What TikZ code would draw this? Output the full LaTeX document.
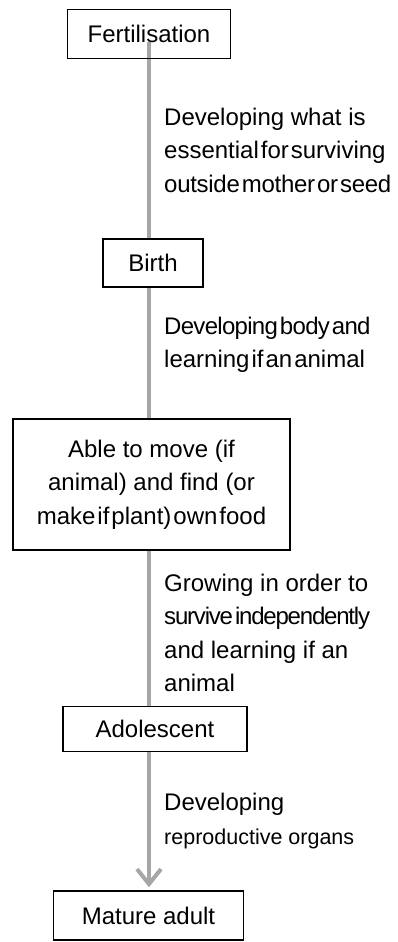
\documentclass[tikz,border=0pt]{standalone}
\usepackage{fontspec}
\setmainfont{Liberation Sans}
\usetikzlibrary{arrows.meta,positioning,backgrounds}

\newcommand\tightwords[2]{{\addfontfeature{LetterSpace=#1}\spaceskip=2pt\relax #2}}

\begin{document}
\begin{tikzpicture}[x=1pt, y=-1pt,
        every node/.style={font=\fontsize{24}{33.5}\selectfont},
        stage/.style={draw=black, line width=1.5pt, fill=white, inner sep=0pt, align=center},
        note/.style={anchor=west, inner sep=0pt, align=left},
        lifeline/.style={draw=gray!70, line width=4pt, shorten >=3pt, -{Straight Barb[length=15pt,width=24pt]}}]

    \useasboundingbox (0,0) rectangle (398,942);

    \node[stage, fill=none, minimum width=163pt, minimum height=49pt] (fert) at (149,34) {Fertilisation};
    \node[stage, minimum width=100pt, minimum height=48pt] (birth) at (153,263) {Birth};
    \node[stage, minimum width=277pt, minimum height=131pt] (move) at (151.5,484.5) {Able to move (if\\animal) and find (or\\\tightwords{0}{make if plant) own food}};
    \node[stage, minimum width=184pt, minimum height=45pt] (adol) at (155,729) {Adolescent};
    \node[stage, minimum width=190pt, minimum height=49pt] (adult) at (148.5,915.5) {Mature adult};

    \node[note] (embryo) at (164,150) {Developing what is\\\tightwords{0}{essential for surviving}\\\tightwords{-1.2}{outside mother or seed}};
    \node[note] (young) at (164,345) {\tightwords{-2.9}{Developing body and}\\\tightwords{0}{learning if an animal}};
    \node[note] (juvenile) at (164,633) {Growing in order to\\\tightwords{-5}{survive independently}\\and learning if an\\animal};
    \node[note] (puberty) at (164,821) {Developing\\{\fontsize{21.5}{33}\selectfont reproductive organs}};

    \begin{scope}[on background layer]
        \draw[lifeline] ([yshift=-8pt]fert.center) -- (fert.center |- adult.north);
    \end{scope}
\end{tikzpicture}
\end{document}
